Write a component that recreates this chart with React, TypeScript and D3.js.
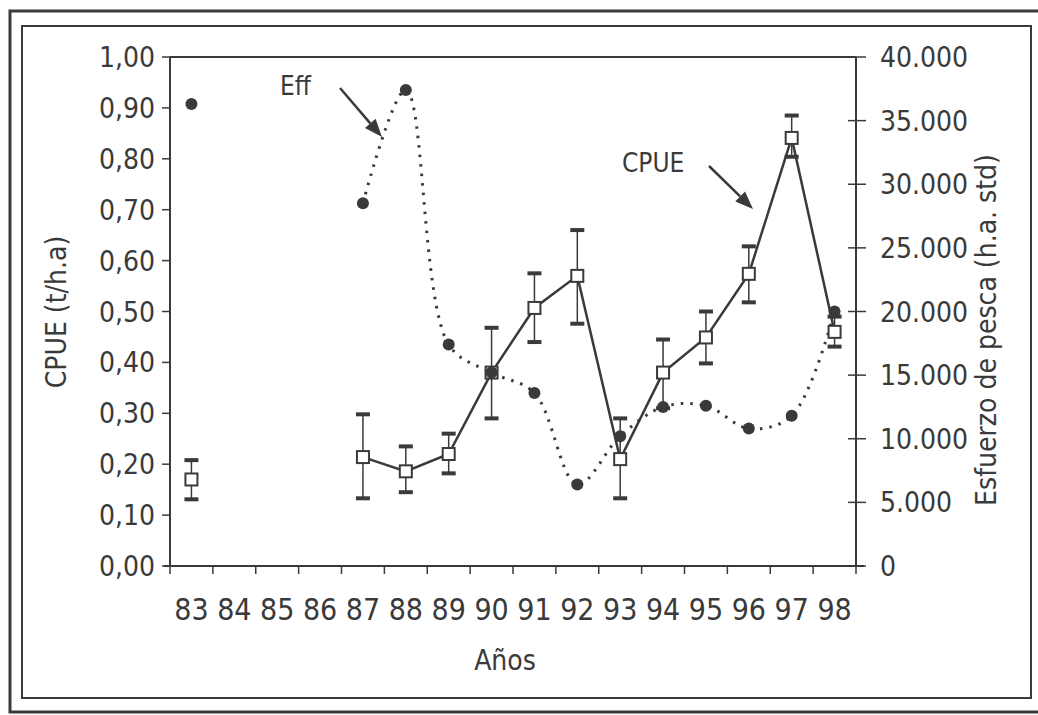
import React from 'react';
import * as d3 from 'd3';

const years = ['83', '84', '85', '86', '87', '88', '89', '90', '91', '92', '93', '94', '95', '96', '97', '98'];
const cpueYears = ['83', '87', '88', '89', '90', '91', '92', '93', '94', '95', '96', '97', '98'];
const cpue = [0.17, 0.214, 0.186, 0.22, 0.38, 0.507, 0.57, 0.21, 0.38, 0.449, 0.574, 0.841, 0.46];
const cpueHigh = [0.208, 0.298, 0.235, 0.26, 0.468, 0.575, 0.66, 0.29, 0.445, 0.5, 0.628, 0.885, 0.49];
const cpueLow = [0.131, 0.133, 0.145, 0.182, 0.29, 0.44, 0.476, 0.133, 0.31, 0.398, 0.518, 0.804, 0.431];
const eff = [36300, 28500, 37400, 17400, 15200, 13600, 6400, 10200, 12500, 12600, 10800, 11800, 20000];
const leftTicks = [0, 0.1, 0.2, 0.3, 0.4, 0.5, 0.6, 0.7, 0.8, 0.9, 1.0];
const rightTicks = [0, 5000, 10000, 15000, 20000, 25000, 30000, 35000, 40000];

const INK = '#3a3a3a';
const FONT = '"Liberation Sans Narrow", "DejaVu Sans Condensed", "Liberation Sans", sans-serif';

export default function App() {
  const L = 170, R = 856, T = 57, B = 566;
  const x = d3.scaleBand<string>().domain(years).range([L, R]).padding(0);
  const cx = (yr: string) => (x(yr) as number) + x.bandwidth() / 2;
  const yL = d3.scaleLinear().domain([0, 1]).range([B, T]);
  const yR = d3.scaleLinear().domain([0, 40000]).range([B, T]);

  const fmtL = (v: number) => v.toFixed(2).replace('.', ',');
  const fmtR = (v: number) => (v === 0 ? '0' : d3.format(',')(v).replace(/,/g, '.'));

  type P = { yr: string; v: number | null };
  const cpueSeries: P[] = years.map((yr) => {
    const i = cpueYears.indexOf(yr);
    return { yr, v: i >= 0 ? cpue[i] : null };
  });
  const effSeries: P[] = years.map((yr) => {
    const i = cpueYears.indexOf(yr);
    return { yr, v: i >= 0 ? eff[i] : null };
  });

  const cpueLine = d3.line<P>().defined((d) => d.v !== null).x((d) => cx(d.yr)).y((d) => yL(d.v as number));
  // only connected runs: 87..98
  const effRun = effSeries.filter((d, i) => d.v !== null && i >= 4);
  const effLine = d3.line<P>().x((d) => cx(d.yr)).y((d) => yR(d.v as number)).curve(d3.curveCatmullRom.alpha(0.5));

  const arrow = (x1: number, y1: number, x2: number, y2: number) => {
    const ang = Math.atan2(y2 - y1, x2 - x1);
    const len = 18, w = 7;
    const bx = x2 - len * Math.cos(ang), by = y2 - len * Math.sin(ang);
    const px = -Math.sin(ang) * w, py = Math.cos(ang) * w;
    return (
      <g>
        <line x1={x1} y1={y1} x2={bx} y2={by} stroke={INK} strokeWidth={2.5} />
        <path d={`M${x2},${y2}L${bx + px},${by + py}L${bx - px},${by - py}Z`} fill={INK} />
      </g>
    );
  };

  return (
    <svg width={1038} height={715} style={{ position: 'absolute', left: 0, top: 0, background: '#fff' }} fontFamily={FONT}>
      <rect x={0} y={0} width={1038} height={715} fill="#fff" />
      {/* frames */}
      <rect x={10} y={11} width={1040} height={701} fill="none" stroke={INK} strokeWidth={3} />
      <rect x={22} y={26} width={1009} height={672} fill="none" stroke={INK} strokeWidth={2} />

      {/* plot frame top and axes */}
      <line x1={L} y1={T} x2={R} y2={T} stroke={INK} strokeWidth={2} />
      <line x1={L} y1={T} x2={L} y2={B} stroke={INK} strokeWidth={2} />
      <line x1={R} y1={T} x2={R} y2={B} stroke={INK} strokeWidth={2} />
      <line x1={L - 6} y1={B} x2={R + 8} y2={B} stroke={INK} strokeWidth={2} />

      {/* left ticks */}
      {leftTicks.map((t) => (
        <g key={'l' + t}>
          <line x1={L - 8} x2={L} y1={yL(t)} y2={yL(t)} stroke={INK} strokeWidth={1.5} />
          <text x={L - 15} y={yL(t)} dy="0.36em" textAnchor="end" fontSize={28} fill={INK}>
            {fmtL(t)}
          </text>
        </g>
      ))}
      {/* right ticks */}
      {rightTicks.map((t) => (
        <g key={'r' + t}>
          <line x1={R - 8} x2={R + 10} y1={yR(t)} y2={yR(t)} stroke={INK} strokeWidth={1.5} />
          <text x={R + 24} y={yR(t)} dy="0.36em" textAnchor="start" fontSize={28} fill={INK}>
            {fmtR(t)}
          </text>
        </g>
      ))}
      {/* x ticks */}
      {years.map((yr) => (
        <line key={'xt' + yr} x1={x(yr)} x2={x(yr)} y1={B} y2={B + 8} stroke={INK} strokeWidth={1.5} />
      ))}
      <line x1={R} x2={R} y1={B} y2={B + 8} stroke={INK} strokeWidth={1.5} />
      {years.map((yr) => (
        <text key={'xl' + yr} x={cx(yr)} y={620} textAnchor="middle" fontSize={30} fill={INK}>
          {yr}
        </text>
      ))}

      {/* axis titles */}
      <text x={505} y={670} textAnchor="middle" fontSize={28} fill={INK}>
        Años
      </text>
      <text transform="translate(66,312) rotate(-90)" textAnchor="middle" fontSize={28} fill={INK}>
        CPUE (t/h.a)
      </text>
      <text transform="translate(996,330) rotate(-90)" textAnchor="middle" fontSize={28} fill={INK}>
        Esfuerzo de pesca (h.a. std)
      </text>

      {/* Eff dotted curve */}
      <path d={effLine(effRun) || ''} fill="none" stroke={INK} strokeWidth={3} strokeDasharray="2.5 7" />

      {/* CPUE line */}
      <path d={cpueLine(cpueSeries) || ''} fill="none" stroke={INK} strokeWidth={2.5} />

      {/* error bars */}
      {cpueYears.map((yr, i) => (
        <g key={'eb' + yr}>
          <line x1={cx(yr)} x2={cx(yr)} y1={yL(cpueHigh[i])} y2={yL(cpueLow[i])} stroke={INK} strokeWidth={1.5} />
          <line x1={cx(yr) - 7} x2={cx(yr) + 7} y1={yL(cpueHigh[i])} y2={yL(cpueHigh[i])} stroke={INK} strokeWidth={4} />
          <line x1={cx(yr) - 7} x2={cx(yr) + 7} y1={yL(cpueLow[i])} y2={yL(cpueLow[i])} stroke={INK} strokeWidth={4} />
        </g>
      ))}
      {/* CPUE squares */}
      {cpueYears.map((yr, i) => (
        <rect key={'sq' + yr} x={cx(yr) - 6} y={yL(cpue[i]) - 6} width={12} height={12} fill="#fff" stroke={INK} strokeWidth={2} />
      ))}
      {/* Eff dots */}
      {cpueYears.map((yr, i) => (
        <circle key={'ef' + yr} cx={cx(yr)} cy={yR(eff[i])} r={6} fill={INK} />
      ))}

      {/* annotations */}
      <text x={280} y={95} fontSize={26} fill={INK}>Eff</text>
      {arrow(340, 88, 382, 137)}
      <text x={622} y={172} fontSize={26} fill={INK}>CPUE</text>
      {arrow(709, 166, 753, 209)}
    </svg>
  );
}
